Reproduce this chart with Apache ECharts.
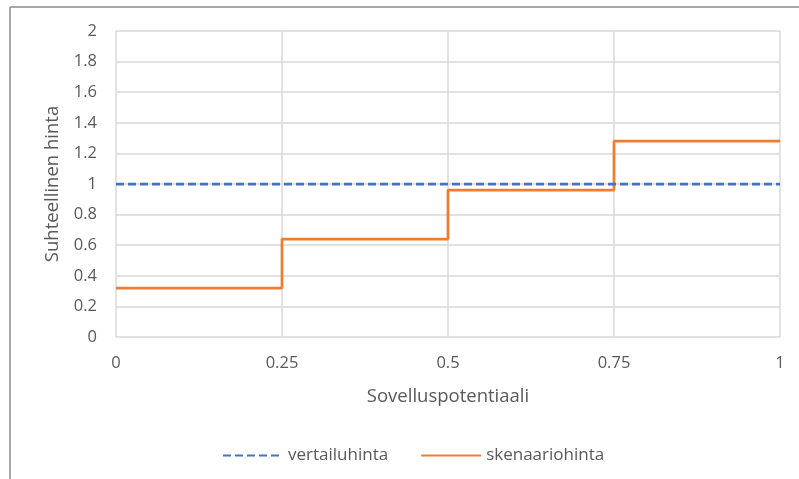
<!DOCTYPE html>
<html>
<head>
<meta charset="utf-8">
<script src="https://cdn.jsdelivr.net/npm/echarts@6/dist/echarts.min.js"></script>
<style>
  html, body { margin: 0; padding: 0; background: #fff; }
  #chart { width: 799px; height: 479px; }
</style>
</head>
<body>
<div id="chart"></div>
<script>
// Step positions (application potential) and relative price levels
const potential = [0, 0.25, 0.5, 0.75, 1];
const scenarioPrice = [0.32, 0.64, 0.96, 1.28, 1.28];
const referencePrice = [1, 1];
const referenceX = [0, 1];
const seriesNames = ['vertailuhinta', 'skenaariohinta'];
const xTitle = 'Sovelluspotentiaali';
const yTitle = 'Suhteellinen hinta';

const FONT = 'Open Sans';
const TXT = '#595959';

const chart = echarts.init(document.getElementById('chart'), null, { renderer: 'canvas' });
chart.setOption({
  animation: false,
  textStyle: { fontFamily: FONT },
  grid: { left: 116, right: 19, top: 31, bottom: 142, containLabel: false },
  xAxis: {
    type: 'value', min: 0, max: 1, interval: 0.25,
    name: xTitle, nameLocation: 'middle', nameGap: 50,
    nameTextStyle: { color: TXT, fontSize: 18.5, fontFamily: FONT },
    axisLine: { show: false }, axisTick: { show: false },
    axisLabel: { color: TXT, fontSize: 16.5, margin: 18, fontFamily: FONT },
    splitLine: { show: true, lineStyle: { color: '#d9d9d9', width: 1.5 } }
  },
  yAxis: {
    type: 'value', min: 0, max: 2, interval: 0.2,
    name: yTitle, nameLocation: 'middle', nameGap: 54, nameRotate: 90,
    nameTextStyle: { color: TXT, fontSize: 18.5, fontFamily: FONT },
    axisLine: { show: false }, axisTick: { show: false },
    axisLabel: { color: TXT, fontSize: 16.5, margin: 19, fontFamily: FONT,
      formatter: v => String(Math.round(v * 10) / 10) },
    splitLine: { show: true, lineStyle: { color: '#d9d9d9', width: 1.5 } }
  },
  legend: {
    bottom: 10, left: 217, itemWidth: 60, itemHeight: 12, itemGap: 32,
    itemStyle: { opacity: 0 },
    textStyle: { color: TXT, fontSize: 17, fontFamily: FONT },
    data: seriesNames
  },
  graphic: [
    { type: 'line', shape: { x1: 10, y1: 7, x2: 799, y2: 7 }, style: { stroke: '#8a8a8a', lineWidth: 1.5 } },
    { type: 'line', shape: { x1: 10, y1: 7, x2: 10, y2: 479 }, style: { stroke: '#8a8a8a', lineWidth: 1.5 } }
  ],
  series: [
    {
      name: seriesNames[0], type: 'line', symbol: 'none',
      data: referenceX.map((x, i) => [x, referencePrice[i]]),
      lineStyle: { color: '#4472C4', width: 2.75, type: [8, 4] },
      itemStyle: { color: '#4472C4' }, z: 3
    },
    {
      name: seriesNames[1], type: 'line', symbol: 'none', step: 'end',
      data: potential.map((x, i) => [x, scenarioPrice[i]]),
      lineStyle: { color: '#ED7D31', width: 2.75 },
      itemStyle: { color: '#ED7D31' }, z: 2
    }
  ]
});
</script>
</body>
</html>
